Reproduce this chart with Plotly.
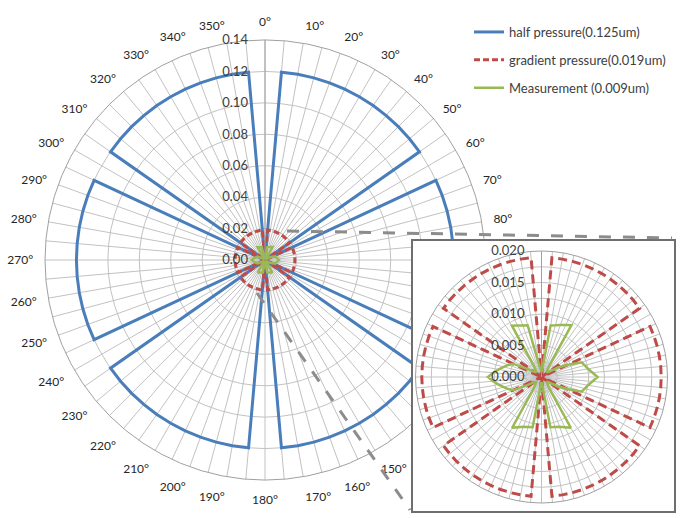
import plotly.graph_objects as go

W, H = 692, 518

# ---------------- data ----------------
angles = [0, 5, 10, 15, 20, 25, 30, 35, 40, 45, 50, 55,
          60, 65, 70, 75, 80, 85, 90, 95, 100, 105, 110, 115,
          120, 125, 130, 135, 140, 145, 150, 155, 160, 165, 170, 175,
          180, 185, 190, 195, 200, 205, 210, 215, 220, 225, 230, 235,
          240, 245, 250, 255, 260, 265, 270, 275, 280, 285, 290, 295,
          300, 305, 310, 315, 320, 325, 330, 335, 340, 345, 350, 355]

half_pressure = [0.0, 0.12, 0.12, 0.12, 0.12, 0.12, 0.12, 0.12, 0.12, 0.12, 0.12, 0.12,
                 0.0, 0.12, 0.12, 0.12, 0.12, 0.12, 0.12, 0.12, 0.12, 0.12, 0.12, 0.12,
                 0.0, 0.12, 0.12, 0.12, 0.12, 0.12, 0.12, 0.12, 0.12, 0.12, 0.12, 0.12,
                 0.0, 0.12, 0.12, 0.12, 0.12, 0.12, 0.12, 0.12, 0.12, 0.12, 0.12, 0.12,
                 0.0, 0.12, 0.12, 0.12, 0.12, 0.12, 0.12, 0.12, 0.12, 0.12, 0.12, 0.12,
                 0.0, 0.12, 0.12, 0.12, 0.12, 0.12, 0.12, 0.12, 0.12, 0.12, 0.12, 0.12]

gradient_pressure = [0.0, 0.019, 0.019, 0.019, 0.019, 0.019, 0.019, 0.019, 0.019, 0.019, 0.019, 0.019,
                     0.0, 0.019, 0.019, 0.019, 0.019, 0.019, 0.019, 0.019, 0.019, 0.019, 0.019, 0.019,
                     0.0, 0.019, 0.019, 0.019, 0.019, 0.019, 0.019, 0.019, 0.019, 0.019, 0.019, 0.019,
                     0.0, 0.019, 0.019, 0.019, 0.019, 0.019, 0.019, 0.019, 0.019, 0.019, 0.019, 0.019,
                     0.0, 0.019, 0.019, 0.019, 0.019, 0.019, 0.019, 0.019, 0.019, 0.019, 0.019, 0.019,
                     0.0, 0.019, 0.019, 0.019, 0.019, 0.019, 0.019, 0.019, 0.019, 0.019, 0.019, 0.019]

measurement = [0.0008, 0.0012, 0.0083, 0.0085, 0.0088, 0.0091, 0.0095, 0.0020, 0.0015, 0.0012, 0.0012, 0.0015,
               0.0030, 0.0045, 0.0068, 0.0071, 0.0075, 0.0081, 0.0089, 0.0081, 0.0075, 0.0071, 0.0068, 0.0045,
               0.0030, 0.0015, 0.0012, 0.0012, 0.0015, 0.0020, 0.0093, 0.0088, 0.0084, 0.0082, 0.0081, 0.0012,
               0.0008, 0.0012, 0.0081, 0.0082, 0.0084, 0.0088, 0.0093, 0.0020, 0.0015, 0.0012, 0.0012, 0.0015,
               0.0025, 0.0050, 0.0056, 0.0062, 0.0069, 0.0077, 0.0085, 0.0077, 0.0069, 0.0062, 0.0056, 0.0050,
               0.0025, 0.0015, 0.0012, 0.0012, 0.0015, 0.0020, 0.0094, 0.0090, 0.0087, 0.0085, 0.0016, 0.0012]

series_names = ["half pressure(0.125um)", "gradient pressure(0.019um)", "Measurement (0.009um)"]

main_rticks = [0.0, 0.02, 0.04, 0.06, 0.08, 0.10, 0.12, 0.14]
main_rlabels = ["0.00", "0.02", "0.04", "0.06", "0.08", "0.10", "0.12", "0.14"]
inset_rticks = [0.0, 0.0025, 0.005, 0.0075, 0.01, 0.0125, 0.015, 0.0175, 0.02]
inset_rlabels = ["0.000", "", "0.005", "", "0.010", "", "0.015", "", "0.020"]
angle_labels = [f"{a}°" if a % 10 == 0 else "" for a in angles]

BLUE = "#4A7EBB"
RED = "#BE4B48"
GREEN = "#98B954"
GRID = "#c2c2c2"
TXT = "#404040"
FONT = "Lato, Liberation Sans, sans-serif"


def closed(v):
    return list(v) + [v[0]]


def px(x):
    return x / W


def py(y):
    return 1 - y / H


fig = go.Figure()

# main chart
fig.add_trace(go.Scatterpolar(r=closed(half_pressure), theta=closed(angles), mode="lines",
                              line=dict(color=BLUE, width=3), name=series_names[0],
                              subplot="polar", legendgroup="a"))
fig.add_trace(go.Scatterpolar(r=closed(gradient_pressure), theta=closed(angles), mode="lines",
                              line=dict(color=RED, width=3, dash="6px,3px"), name=series_names[1],
                              subplot="polar", legendgroup="b"))
fig.add_trace(go.Scatterpolar(r=closed(measurement), theta=closed(angles), mode="lines",
                              line=dict(color=GREEN, width=2.5), name=series_names[2],
                              subplot="polar", legendgroup="c"))

# white cover for the inset frame (polar2 sits above the main chart)
fig.add_trace(go.Scatterpolar(r=[5.85, 4.03], theta=[20, 150.3], mode="markers",
                              marker=dict(symbol="square", size=263, color="white",
                                          line=dict(width=0)),
                              cliponaxis=False, showlegend=False, hoverinfo="skip",
                              subplot="polar2"))

# inset zoom
fig.add_trace(go.Scatterpolar(r=closed(gradient_pressure), theta=closed(angles), mode="lines",
                              line=dict(color=RED, width=3, dash="9px,5px"), showlegend=False,
                              subplot="polar3"))
fig.add_trace(go.Scatterpolar(r=closed(measurement), theta=closed(angles), mode="lines",
                              line=dict(color=GREEN, width=2.5), showlegend=False,
                              subplot="polar3"))

ang_common = dict(rotation=90, direction="clockwise", tickmode="array", tickvals=angles,
                  showgrid=True, gridcolor=GRID, gridwidth=1, showline=True,
                  linecolor="#a0a0a0", linewidth=1)

rad_common = dict(angle=90, side="counterclockwise", tickmode="array", showline=True,
                  linecolor="#a0a0a0", gridcolor=GRID, ticks="outside", ticklen=12,
                  tickcolor="rgba(0,0,0,0)", tickangle=90,
                  tickfont=dict(size=13, color=TXT, family=FONT))

fig.update_layout(
    width=W, height=H, autosize=False,
    margin=dict(l=0, r=0, t=0, b=0),
    paper_bgcolor="white",
    font=dict(family=FONT, color=TXT),
    polar=dict(
        domain=dict(x=[px(45), px(485)], y=[py(480), py(40)]),
        bgcolor="white",
        angularaxis=dict(**ang_common, ticktext=angle_labels, ticks="outside", ticklen=9,
                         tickcolor="rgba(0,0,0,0)",
                         tickfont=dict(size=12, color="#262626", family=FONT)),
        radialaxis=dict(**rad_common, range=[0, 0.14], tickvals=main_rticks, ticktext=main_rlabels),
    ),
    polar2=dict(
        domain=dict(x=[px(415.5), px(667.5)], y=[py(503), py(251)]),
        bgcolor="rgba(0,0,0,0)",
        angularaxis=dict(visible=False, rotation=90, direction="clockwise"),
        radialaxis=dict(visible=False, range=[0, 126]),
    ),
    polar3=dict(
        domain=dict(x=[px(415.5), px(667.5)], y=[py(503), py(251)]),
        bgcolor="white",
        angularaxis=dict(**ang_common, ticktext=["" for _ in angles], ticks=""),
        radialaxis=dict(**rad_common, range=[0, 0.02], tickvals=inset_rticks, ticktext=inset_rlabels),
    ),
    legend=dict(x=px(469), y=py(17), xanchor="left", yanchor="top",
                bgcolor="rgba(0,0,0,0)", font=dict(size=13, color=TXT, family=FONT),
                tracegroupgap=8),
    shapes=[
        dict(type="rect", xref="paper", yref="paper", x0=px(412), x1=px(675), y0=py(512), y1=py(240),
             line=dict(color="#6e6e6e", width=2), fillcolor="rgba(0,0,0,0)", layer="above"),
        dict(type="line", xref="paper", yref="paper", x0=px(287), y0=py(231), x1=px(672), y1=py(238),
             line=dict(color="#8c8c8c", width=3, dash="12px,12px"), layer="above"),
        dict(type="line", xref="paper", yref="paper", x0=px(257), y0=py(293), x1=px(410), y1=py(510),
             line=dict(color="#8c8c8c", width=3, dash="12px,12px"), layer="above"),
    ],
)

fig.write_html("out.html", config={"displayModeBar": False},
               post_script="document.body.style.margin='0px';")
